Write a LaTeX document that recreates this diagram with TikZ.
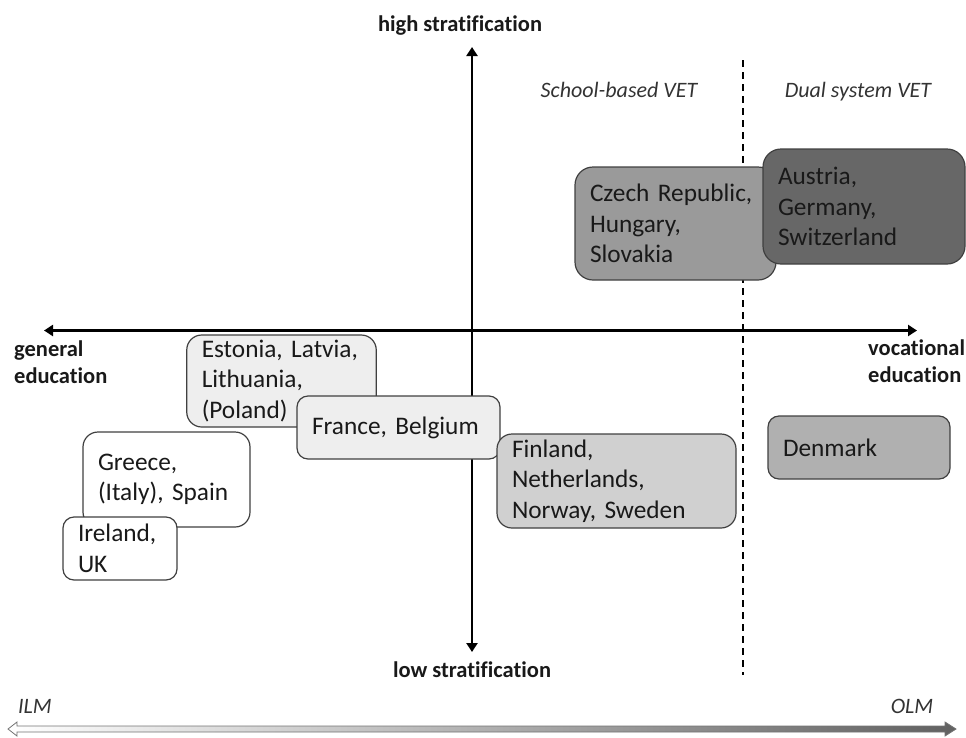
\documentclass[tikz,border=0pt]{standalone}
\usepackage{fontspec}
\setmainfont[Ligatures=NoCommon]{Carlito}
\usepackage{tikz}
\usetikzlibrary{arrows.meta}

\definecolor{boxline}{HTML}{404040}
\definecolor{lightfill}{HTML}{EEEEEE}
\definecolor{paleFill}{HTML}{D0D0D0}
\definecolor{midfill}{HTML}{B0B0B0}
\definecolor{greyfill}{HTML}{9A9A9A}
\definecolor{darkfill}{HTML}{676767}

\begin{document}
\begin{tikzpicture}[
    x=1pt, y=-1pt,
    country/.style={
      draw=boxline,
      line width=1.2pt,
      rounded corners=11pt,
      align=left,
      inner xsep=15pt,
      inner ysep=0pt,
      font=\fontsize{25.3}{30.5}\selectfont\frenchspacing,
      text=black!90
    },
    axis/.style={line width=2.6pt, {Triangle[width=11pt,length=9pt]}-{Triangle[width=11pt,length=9pt]}},
    label/.style={font=\fontsize{22.5}{27}\selectfont\bfseries, text=black!90, align=left, inner sep=0pt},
    vet/.style={font=\fontsize{22}{26}\selectfont\itshape, text=black!80, inner sep=0pt}
  ]
    \useasboundingbox (0,0) rectangle (966,737);

    % axes and the VET divide
    \coordinate (north) at (472,47);
    \coordinate (south) at (472,652);
    \coordinate (west) at (44,330.5);
    \coordinate (east) at (917,330.5);
    \coordinate (vettop) at (743,60);
    \coordinate (vetbottom) at (743,675);

    \draw[axis] (south) -- (north);
    \draw[axis] (west) -- (east);
    \draw[line width=2.8pt, dash pattern=on 7pt off 5pt] (vettop) -- (vetbottom);

    \node[label, anchor=base] (high) at (460,31) {high stratification};
    \node[label, anchor=base] (low) at (472,677) {low stratification};
    \node[label, anchor=base west] (general) at (14,383) {general\\education};
    \node[label, anchor=base west] (vocational) at (868,382) {vocational\\education};

    \node[vet, anchor=base] (school) at (619,97) {School-based VET};
    \node[vet, anchor=base] (dual) at (858,97) {Dual system VET};

    % country groups
    \node[country, fill=greyfill, rounded corners=18pt, text width=171pt, minimum height=113pt] (czech) at (675.5,223.5) {Czech Republic,\\Hungary,\\Slovakia};
    \node[country, fill=darkfill, rounded corners=18pt, text width=172pt, minimum height=115pt] (austria) at (864,206.5) {Austria,\\Germany,\\Switzerland};

    \node[country, fill=lightfill, rounded corners=15pt, text width=159.5pt, minimum height=92pt] (estonia) at (281.5,381) {Estonia, Latvia,\\Lithuania,\\(Poland)};
    \node[country, fill=lightfill, text width=173pt, minimum height=63pt] (france) at (398.5,427.5) {France, Belgium};
    \node[country, fill=paleFill, rounded corners=15pt, text width=209pt, minimum height=94pt] (finland) at (616.5,481) {Finland,\\Netherlands,\\Norway, Sweden};
    \node[country, fill=midfill, text width=152pt, minimum height=63pt] (denmark) at (859,447.5) {Denmark};

    \node[country, fill=white, rounded corners=15pt, text width=137pt, minimum height=95pt] (greece) at (166.5,479.5) {Greece,\\(Italy), Spain};
    \node[country, fill=white, text width=84pt, minimum height=63pt] (ireland) at (120,548.5) {Ireland,\\UK};

    % labour market scale
    \node[vet, anchor=base] (ilm) at (35,713) {ILM};
    \node[vet, anchor=base] (olm) at (912,713) {OLM};
    \shade[draw=black!55, line width=0.8pt, left color=white, right color=black!62]
      (8,729) -- (17,722) -- (17,726) -- (945,726) -- (945,722) -- (956,729)
      -- (945,736) -- (945,732) -- (17,732) -- (17,736) -- cycle;
  \end{tikzpicture}
\end{document}
